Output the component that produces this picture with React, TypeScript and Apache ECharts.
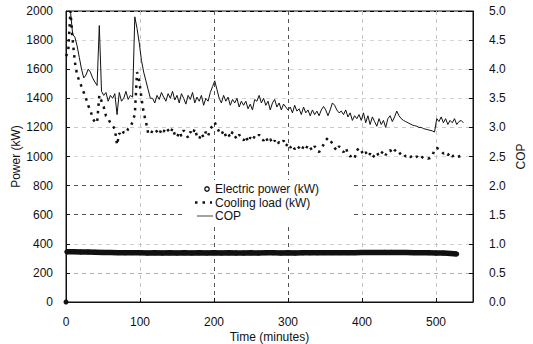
import React, { useEffect, useRef } from "react";
import * as echarts from "echarts";

// Time step (minutes) between successive readings
const TIME_STEP = 3;

// COP (right axis), readings from t = 3 min every 3 min
const COP_START = 3;
const copValues = [
  5.0, 5.0, 4.6, 4.55, 4.4, 4.2, 4.0, 3.85, 3.9, 4.0,
  3.95, 3.85, 3.78, 3.72, 4.75, 3.62, 3.55, 3.6, 3.45, 3.55,
  3.5, 3.58, 3.22, 3.6, 3.45, 3.5, 3.62, 3.48, 3.55, 3.52,
  4.9, 4.7, 4.45, 4.15, 3.95, 3.8, 3.65, 3.5, 3.5, 3.42,
  3.55, 3.48, 3.6, 3.52, 3.45, 3.58, 3.5, 3.62, 3.47, 3.55,
  3.42, 3.58, 3.5, 3.4, 3.55, 3.48, 3.6, 3.42, 3.52, 3.45,
  3.55, 3.38, 3.5, 3.45, 3.6, 3.7, 3.8, 3.65, 3.5, 3.42,
  3.55, 3.45, 3.52, 3.38, 3.48, 3.42, 3.5, 3.35, 3.45, 3.38,
  3.45, 3.32, 3.4, 3.3, 3.48, 3.45, 3.55, 3.42, 3.5, 3.38,
  3.45, 3.3, 3.42, 3.48, 3.35, 3.42, 3.3, 3.4, 3.35, 3.3,
  3.35, 3.25, 3.38, 3.28, 3.32, 3.22, 3.35, 3.25, 3.3, 3.2,
  3.3, 3.22, 3.28, 3.2, 3.3, 3.36, 3.3, 3.2, 3.3, 3.42,
  3.38, 3.3, 3.25, 3.28, 3.22, 3.3, 3.18, 3.25, 3.12, 3.2,
  3.15, 3.22, 3.12, 3.25, 3.08, 3.2, 3.05, 3.18, 3.1, 3.02,
  3.15, 3.05, 3.12, 3.0, 3.15, 3.2, 3.1, 3.18, 3.28, 3.2,
  3.15, 3.12, 3.1, 3.08, 3.06, 3.04, 3.03, 3.02, 3.0, 3.0,
  2.98, 2.97, 2.96, 2.95, 2.94, 2.92, 3.15, 3.1, 3.18, 3.08,
  3.15, 3.05, 3.12, 3.08, 3.15, 3.05, 3.1, 3.12, 3.08,
];

// Cooling load (kW), readings from t = 0 min every 3 min
const COOL_START = 0;
const coolingValues = [
  1690, 1720, 2000, 1800, 1650, 1560, 1520, 1480, 1440, 1400,
  1350, 1320, 1260, 1240, 1230, 1420, 1380, 1340, 1280, 1260,
  1230, 1210, 1190, 1080, 1160, 1140, 1170, 1160, 1190, 1200,
  1240, 1290, 1580, 1520, 1400, 1300, 1240, 1160, 1150, 1180,
  1190, 1170, 1150, 1190, 1170, 1200, 1180, 1160, 1195, 1150,
  1130, 1170, 1140, 1180, 1150, 1130, 1170, 1150, 1190, 1140,
  1120, 1160, 1130, 1170, 1140, 1190, 1210, 1235, 1200, 1170,
  1150, 1180, 1140, 1160, 1130, 1170, 1140, 1120, 1150, 1130,
  1110, 1140, 1100, 1130, 1110, 1140, 1130, 1150, 1120, 1110,
  1135, 1100, 1120, 1090, 1110, 1080, 1100, 1090, 1110, 1070,
  1090, 1060, 1080, 1050, 1075, 1060, 1040, 1070, 1050, 1080,
  1060, 1040, 1070, 1050, 1030, 1060, 1080, 1110, 1130, 1110,
  1090, 1060, 1040, 1070, 1050, 1030, 1060, 1020, 1000, 1010,
  990, 1040, 1060, 1040, 1010, 1030, 1000, 1020, 990, 1010,
  1030, 1000, 1020, 1040, 1010, 1030, 1045, 1020, 1040, 1050,
  1030, 1010, 1020, 1000, 1010, 995, 1005, 990, 1000, 985,
  1000, 990, 995, 985, 990, 1000, 1050, 1060, 1050, 1040,
  1020, 1030, 1010, 1025, 1000, 1010, 995, 1000, 1005, 995,
];

// Electric power (kW); "-" marks the gap after the start-up reading
const powerTimes = [
  0, 0.5, 1, 10, 20, 30, 40, 50, 60, 70, 80, 90, 100, 110, 120, 130, 140, 150,
  160, 170, 180, 190, 200, 210, 220, 230, 240, 250, 260, 270, 280, 290, 300,
  310, 320, 330, 340, 350, 360, 370, 380, 390, 400, 410, 420, 430, 440, 450,
  460, 470, 480, 490, 500, 510, 520, 528,
];
const powerValues: (number | string)[] = [
  0, "-", 345, 346, 344, 343, 342, 341, 340, 339, 338, 339, 338, 337, 338, 337, 338, 337,
  338, 337, 338, 337, 338, 337, 338, 337, 337, 338, 337, 338, 338, 337, 338,
  337, 338, 338, 338, 339, 339, 339, 339, 339, 340, 340, 340, 341, 341, 340,
  340, 339, 339, 338, 337, 336, 334, 330,
];

// Legend labels
const legendLabels = ["Electric power (kW)", "Cooling load (kW)", "COP"];

const FONT = "'Liberation Sans', Arial, Helvetica, sans-serif";
const INK = "#111";

export default function App() {
  const ref = useRef<HTMLDivElement>(null);

  useEffect(() => {
    document.body.style.margin = "0";
    if (!ref.current) return;
    const chart = echarts.init(ref.current, undefined, { renderer: "svg" });

    const copData = copValues.map((v, i) => [COP_START + i * TIME_STEP, v]);
    const coolData = coolingValues.map((v, i) => [COOL_START + i * TIME_STEP, v]);
    const powerData = powerValues.map((v, i) => [powerTimes[i], v]);

    const axisLabelStyle = { color: INK, fontSize: 12, fontFamily: FONT };

    chart.setOption({
      animation: false,
      backgroundColor: "#fff",
      textStyle: { fontFamily: FONT },
      grid: {
        left: 66,
        right: 60,
        top: 11,
        bottom: 42,
        show: true,
        borderColor: INK,
        borderWidth: 1,
        backgroundColor: "transparent",
        containLabel: false,
        outerBoundsMode: "none",
      },
      xAxis: {
        type: "value",
        min: 0,
        max: 550,
        interval: 100,
        name: "Time (minutes)",
        nameLocation: "middle",
        nameGap: 29,
        nameMoveOverlap: false,
        nameTextStyle: { color: INK, fontSize: 12, fontFamily: FONT },
        axisLine: { lineStyle: { color: INK, width: 1 } },
        axisTick: { inside: true, length: 4, lineStyle: { color: INK } },
        axisLabel: {
          ...axisLabelStyle,
          margin: 14,
          showMaxLabel: false,
          formatter: (v: number) => String(v),
        },
        splitLine: {
          show: true,
          lineStyle: {
            type: [4, 4],
            color: ["#000", "#c4c4c4", "#555", "#555", "#c4c4c4", "#c4c4c4", "#000"],
          },
        },
      },
      yAxis: [
        {
          type: "value",
          min: 0,
          max: 2000,
          interval: 200,
          name: "Power (kW)",
          nameLocation: "middle",
          nameGap: 44,
          nameMoveOverlap: false,
          nameTextStyle: { color: INK, fontSize: 12, fontFamily: FONT },
          axisLine: { show: true, lineStyle: { color: INK, width: 1 } },
          axisTick: { show: true, inside: true, length: 4, lineStyle: { color: INK } },
          axisLabel: { ...axisLabelStyle, margin: 13, formatter: (v: number) => String(v) },
          splitLine: {
            show: true,
            lineStyle: {
              type: [4, 4],
              color: [
                "#000", "#b0b0b0", "#d0d0d0", "#555", "#555", "#d6d6d6",
                "#c8c8c8", "#d6d6d6", "#d6d6d6", "#d6d6d6", "#000",
              ],
            },
          },
        },
        {
          type: "value",
          min: 0,
          max: 5,
          interval: 0.5,
          name: "COP",
          nameLocation: "middle",
          nameGap: 42,
          nameMoveOverlap: false,
          nameTextStyle: { color: INK, fontSize: 12, fontFamily: FONT },
          axisLine: { show: true, lineStyle: { color: INK, width: 1 } },
          axisTick: { show: true, inside: true, length: 4, lineStyle: { color: INK } },
          axisLabel: {
            ...axisLabelStyle,
            margin: 16,
            formatter: (v: number) => v.toFixed(1),
          },
          splitLine: { show: false },
        },
      ],
      series: [
        {
          name: "Electric power (kW)",
          type: "line",
          yAxisIndex: 0,
          data: powerData,
          connectNulls: false,
          symbol: "circle",
          symbolSize: 5,
          showSymbol: true,
          itemStyle: { color: INK },
          lineStyle: { color: INK, width: 5.5 },
          z: 3,
        },
        {
          name: "Cooling load (kW)",
          type: "line",
          yAxisIndex: 0,
          data: coolData,
          symbol: "none",
          lineStyle: { color: INK, width: 2.5, type: [2.5, 5] },
          z: 3,
        },
        {
          name: "COP",
          type: "line",
          yAxisIndex: 1,
          data: copData,
          symbol: "none",
          lineStyle: { color: INK, width: 1 },
          z: 4,
        },
      ],
      graphic: [
        {
          type: "rect",
          z: 10,
          shape: { x: 183, y: 180, width: 168, height: 43 },
          style: { fill: "#fff" },
        },
        {
          type: "circle",
          z: 11,
          shape: { cx: 207, cy: 189, r: 2.2 },
          style: { fill: "#fff", stroke: INK, lineWidth: 1.3 },
        },
        {
          type: "line",
          z: 11,
          shape: { x1: 195, y1: 202.5, x2: 212, y2: 202.5 },
          style: { stroke: INK, lineWidth: 2.5, lineDash: [2.5, 5] },
        },
        {
          type: "line",
          z: 11,
          shape: { x1: 197, y1: 216, x2: 213, y2: 216 },
          style: { stroke: "#666", lineWidth: 1.2 },
        },
        ...legendLabels.map((t, i) => ({
          type: "text",
          z: 11,
          x: 215,
          y: [189, 202.5, 216][i],
          style: {
            text: t,
            fill: INK,
            font: `12px ${FONT}`,
            textVerticalAlign: "middle",
            verticalAlign: "middle",
          },
        })),
      ],
    });

    return () => chart.dispose();
  }, []);

  return <div ref={ref} style={{ width: 533, height: 344 }} />;
}
